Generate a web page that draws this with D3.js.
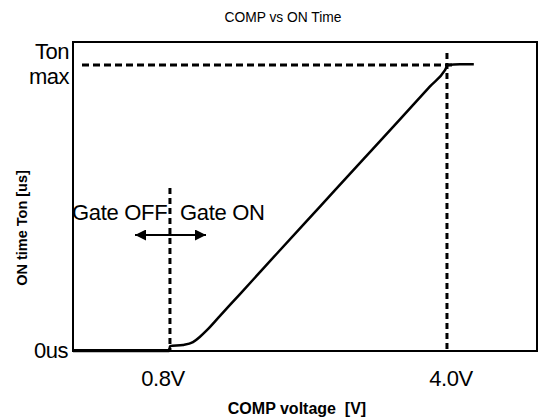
<!DOCTYPE html>
<html><head><meta charset="utf-8">
<script src="https://cdn.jsdelivr.net/npm/d3@7/dist/d3.min.js"></script>
<style>body{margin:0;background:#fff;} svg{display:block;} text{font-family:"Liberation Sans",Arial,sans-serif;fill:#000;}</style>
</head><body><svg id="c" width="540" height="419"></svg>
<script>
// COMP voltage [V]
const compV = [-0.32, 0.79, 0.80, 0.95, 1.066, 1.147, 1.227, 1.378, 1.609, 2.036, 2.533, 3.03, 3.457, 3.804, 3.977, 4.01, 4.15, 4.31];
// ON time, normalized to Ton max
const tonNorm = [0, 0, 0.017, 0.021, 0.031, 0.050, 0.073, 0.123, 0.199, 0.341, 0.505, 0.669, 0.810, 0.925, 0.982, 1.0, 1.003, 1.003];
const xTickVals = [0.8, 4.0];
const xTickLabels = ["0.8V", "4.0V"];
const yTickVals = [0, 1];
const yTickLabels = ["0us", "Ton\nmax"];
const gateV = 0.8, maxV = 4.0, tonMax = 1;

const svg = d3.select("#c");
const L = 73, R = 537, T = 42, B = 351;
const x = d3.scaleLinear().domain([-0.32, 5.04]).range([L, R]);
const y = d3.scaleLinear().domain([0, 1.0804]).range([B, T]);

svg.append("text").attr("x", 283).attr("y", 22).attr("text-anchor", "middle")
  .style("font-size", "13.8px").text("COMP vs ON Time");

// x tick labels
const labelDx = [-7, 4];
svg.append("g").selectAll("text").data(xTickVals).join("text")
  .attr("x", (d, i) => x(d) + labelDx[i]).attr("y", 386).attr("text-anchor", "middle")
  .style("font-size", "22px").style("letter-spacing", "-0.5px")
  .text((d, i) => xTickLabels[i]);

// y tick labels
const yl = svg.append("g");
yTickVals.forEach((v, i) => {
  const lines = yTickLabels[i].split("\n");
  const t = yl.append("text").attr("text-anchor", "end").style("font-size", "22px").style("letter-spacing", "-0.5px");
  if (lines.length === 1) {
    t.attr("x", 68).attr("y", y(v) + 7).text(lines[0]);
  } else {
    lines.forEach((s, j) => t.append("tspan").attr("x", 69).attr("y", y(v) - 6 + j * 25).text(s));
  }
});

svg.append("text").attr("x", 297).attr("y", 414).attr("text-anchor", "middle")
  .style("font-size", "16px").style("font-weight", "bold").attr("xml:space","preserve").text("COMP voltage  [V]");
svg.append("text").attr("transform", "translate(27,228) rotate(-90)").attr("text-anchor", "middle")
  .style("font-size", "14.5px").style("font-weight", "bold").text("ON time Ton [us]");

// frame
svg.append("rect").attr("x", L).attr("y", T).attr("width", R - L).attr("height", B - T)
  .attr("fill", "none").attr("stroke", "#000").attr("stroke-width", 2);

// dashed guides
const dash = "6,4";
svg.append("line").attr("x1", x(gateV)).attr("x2", x(gateV)).attr("y1", 188).attr("y2", B)
  .attr("stroke", "#000").attr("stroke-width", 3).attr("stroke-dasharray", dash);
svg.append("line").attr("x1", x(maxV)).attr("x2", x(maxV)).attr("y1", 53).attr("y2", B)
  .attr("stroke", "#000").attr("stroke-width", 3).attr("stroke-dasharray", dash);
svg.append("line").attr("x1", 82).attr("x2", x(maxV) + 5).attr("y1", y(tonMax)).attr("y2", y(tonMax))
  .attr("stroke", "#000").attr("stroke-width", 3).attr("stroke-dasharray", "7,4");

// curve
const pts = compV.map((v, i) => [v, tonNorm[i]]);
svg.append("path").datum(pts)
  .attr("d", d3.line().x(d => x(d[0])).y(d => y(d[1])).curve(d3.curveMonotoneX))
  .attr("fill", "none").attr("stroke", "#000").attr("stroke-width", 2.5).attr("stroke-linejoin", "round");
svg.append("path").datum(pts.slice(0, 2))
  .attr("d", d3.line().x(d => x(d[0])).y(d => y(d[1]) - 0.5))
  .attr("fill", "none").attr("stroke", "#000").attr("stroke-width", 3);

// gate annotation
svg.append("text").attr("x", 72).attr("y", 220).style("font-size", "22px").style("letter-spacing", "-0.3px").text("Gate OFF");
svg.append("text").attr("x", 180).attr("y", 220).style("font-size", "22px").style("letter-spacing", "-0.3px").text("Gate ON");
const defs = svg.append("defs");
defs.append("marker").attr("id", "ah").attr("viewBox", "0 0 10 10").attr("refX", 10).attr("refY", 5)
  .attr("markerWidth", 16).attr("markerHeight", 11).attr("markerUnits", "userSpaceOnUse").attr("orient", "auto-start-reverse")
  .append("path").attr("d", "M0,0 L10,5 L0,10 Z").attr("fill", "#000");
svg.append("line").attr("x1", 135).attr("x2", 206).attr("y1", 235).attr("y2", 235)
  .attr("stroke", "#000").attr("stroke-width", 1.8)
  .attr("marker-start", "url(#ah)").attr("marker-end", "url(#ah)");
</script></body></html>
